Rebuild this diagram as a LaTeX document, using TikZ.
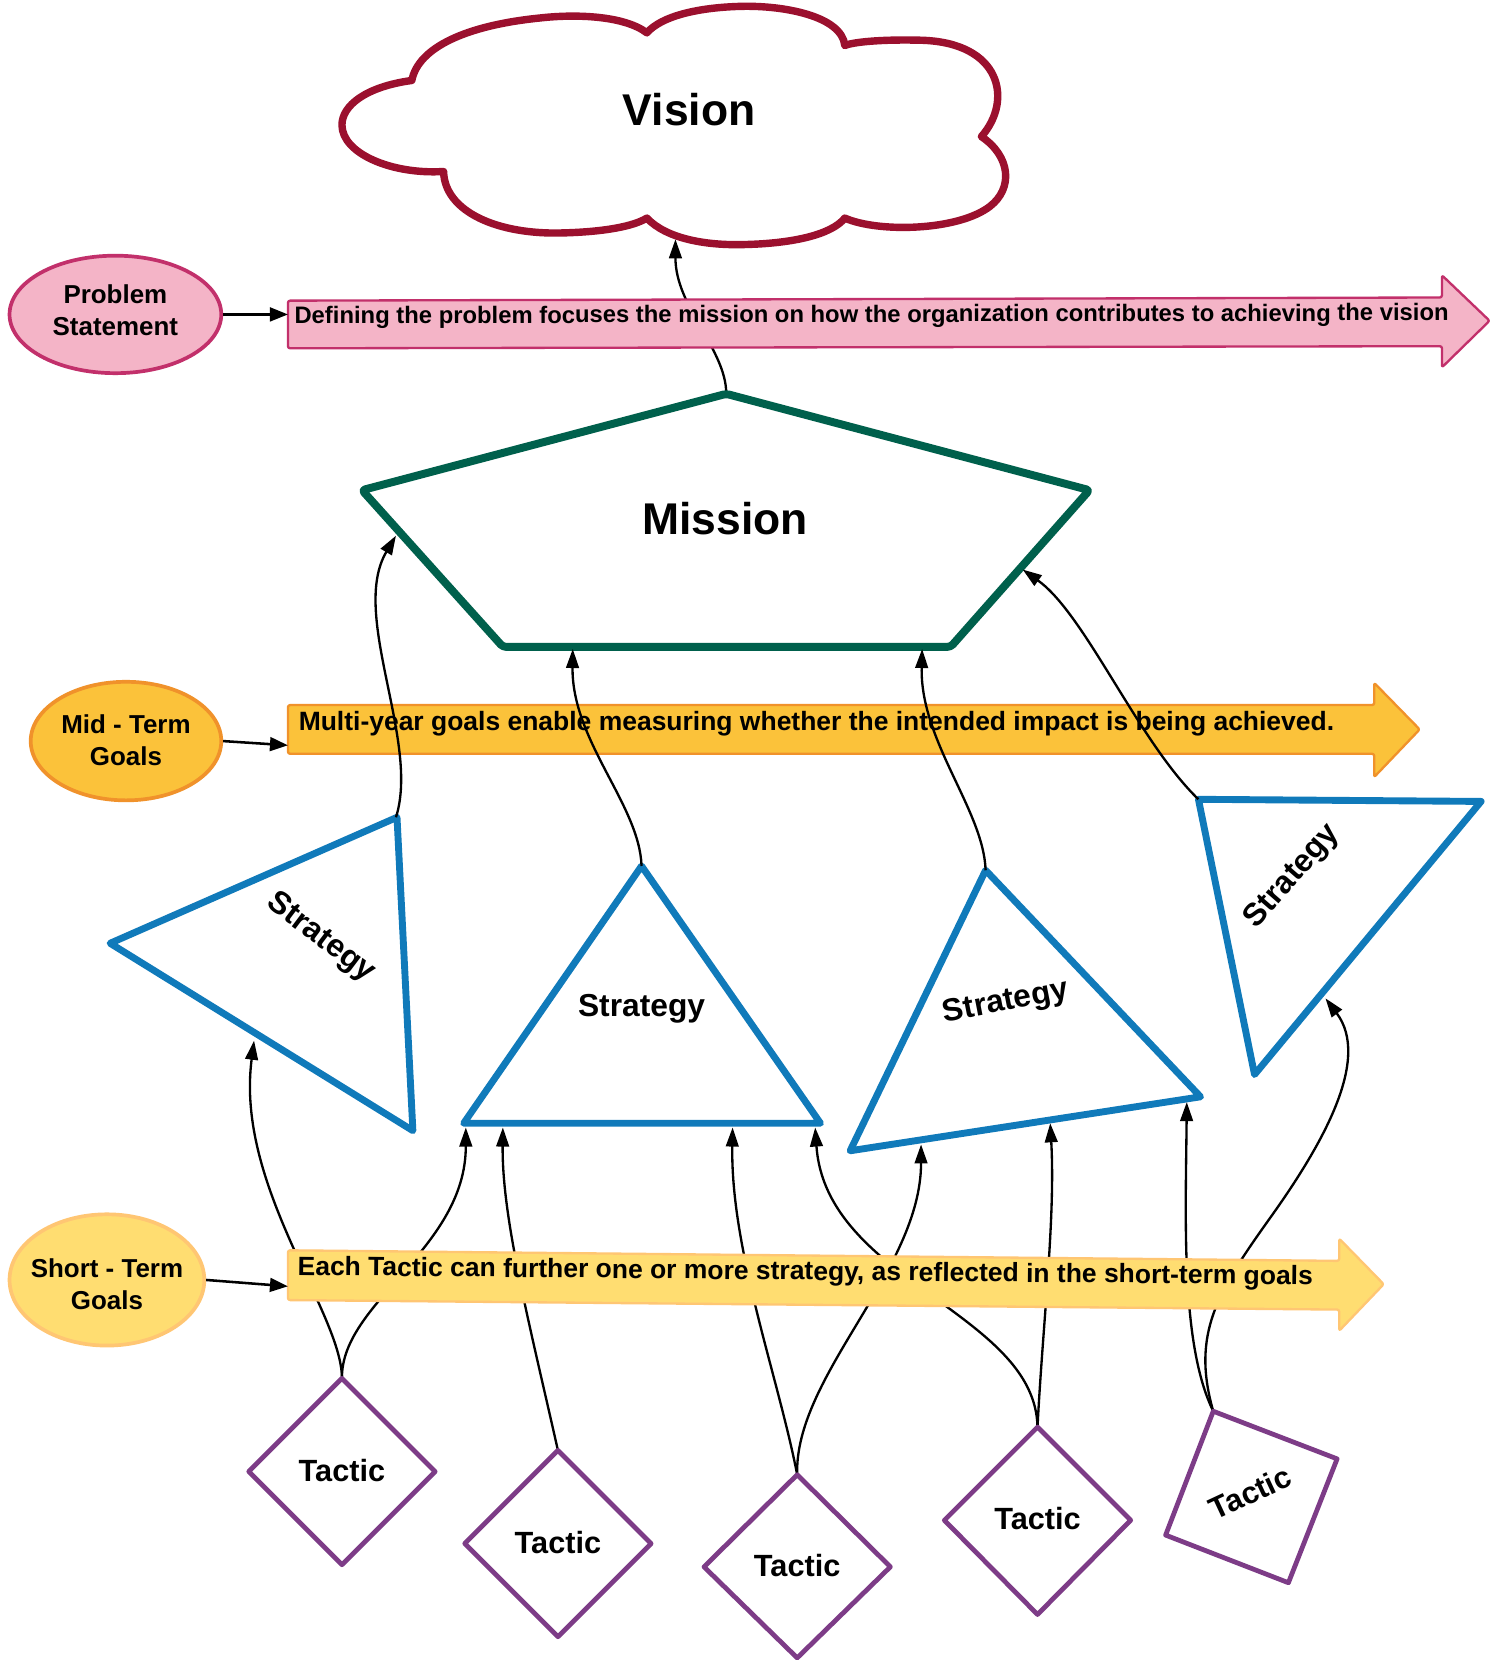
\documentclass[tikz,border=0pt]{standalone}
\usepackage{fontspec}
\setmainfont{Liberation Sans}
\usetikzlibrary{arrows.meta,shapes.geometric}
\definecolor{cloudred}{RGB}{155,16,46}
\definecolor{missiongreen}{RGB}{0,96,76}
\definecolor{stratblue}{RGB}{16,122,186}
\definecolor{tacticpurple}{RGB}{125,60,135}
\definecolor{pinkfill}{RGB}{244,180,199}
\definecolor{pinkline}{RGB}{194,48,107}
\definecolor{orangefill}{RGB}{251,194,58}
\definecolor{orangeline}{RGB}{240,146,43}
\definecolor{yellowfill}{RGB}{255,221,113}
\definecolor{yellowline}{RGB}{255,198,115}
\begin{document}
\begin{tikzpicture}[x=1pt,y=-1pt,line join=round,
  conn/.style={line width=2.2pt,-{Triangle[length=18pt,width=12pt]}},
  gconn/.style={line width=2.4pt,-{Triangle[length=17pt,width=13pt]}},
  big/.style={font=\bfseries\fontsize{42}{48}\selectfont,inner sep=0pt},
  mid/.style={font=\bfseries\fontsize{30}{36}\selectfont,inner sep=0pt},
  tac/.style={font=\bfseries\fontsize{29}{34}\selectfont,inner sep=0pt},
  ell/.style={ellipse,line width=3.5pt,inner sep=0pt},
  elltext/.style={align=center,inner sep=0pt,font=\bfseries\fontsize{24.5}{30}\selectfont},
  band/.style={font=\bfseries\fontsize{25}{30}\selectfont,inner sep=0pt,anchor=west},
  tri/.style={draw=stratblue,line width=6.5pt,fill=white},
  dia/.style={draw=tacticpurple,line width=4.5pt,fill=white}]
\useasboundingbox[fill=white] (0,0) rectangle (1413,1568);

% ---------- coordinates
\coordinate (m-top) at (686,372);
\coordinate (c-bot) at (638,226);
\coordinate (m-l) at (374,506);
\coordinate (m-b1) at (541,613);
\coordinate (m-b2) at (871,613);
\coordinate (m-r) at (966,538);
\coordinate (t1-top) at (374,772);
\coordinate (t2-top) at (606,818);
\coordinate (t3-top) at (931,822);
\coordinate (t4-top) at (1132,755);
\coordinate (t1-in) at (240,983);
\coordinate (t2-in1) at (440,1065);
\coordinate (t2-in2) at (475,1065);
\coordinate (t2-in3) at (692,1065);
\coordinate (t2-in4) at (770,1065);
\coordinate (t3-in1) at (870,1081);
\coordinate (t3-in2) at (992,1061);
\coordinate (t3-in3) at (1121,1041);
\coordinate (t4-in) at (1252,943);
\coordinate (d1-top) at (323,1302);
\coordinate (d2-top) at (527,1370);
\coordinate (d3-top) at (753,1393);
\coordinate (d4-top) at (980,1348);
\coordinate (d5-top) at (1146,1333);
\coordinate (pink-in) at (272,297);
\coordinate (orange-in) at (272,704);
\coordinate (yellow-in) at (272,1215);

% ---------- cloud
\draw[cloudred,line width=7pt,fill=white]
  (389,76) .. controls (345,82) and (323,100) .. (323,118)
  .. controls (323,145) and (370,165) .. (419,162)
  .. controls (420,200) and (470,222) .. (532,220)
  .. controls (570,219) and (598,214) .. (611,206)
  .. controls (630,226) and (668,232) .. (703,231)
  .. controls (748,230) and (785,222) .. (798,206)
  .. controls (830,220) and (905,218) .. (935,195)
  .. controls (957,178) and (955,148) .. (927,129)
  .. controls (957,95) and (946,40) .. (870,38)
  .. controls (830,37) and (805,40) .. (798,43)
  .. controls (795,15) and (740,5) .. (700,6)
  .. controls (660,7) and (625,15) .. (611,31)
  .. controls (590,15) and (545,13) .. (510,17)
  .. controls (440,24) and (395,45) .. (389,76) -- cycle;
\node[big] (vision) at (651,104) {Vision};

% mission -> vision (behind pink band)
\draw[conn] (m-top) .. controls (686,330) and (638,290) .. (c-bot);

% ---------- pink band
\draw[pinkline,line width=2.2pt,fill=pinkfill,rounded corners=2pt]
  (272,284) -- (1362,281) -- (1362,260) -- (1407,303) -- (1362,347) -- (1362,327) -- (272,329) -- cycle;
\node[band,font=\bfseries\fontsize{22.5}{28}\selectfont,rotate=0.15] (pinktext) at (278,300) {Defining the problem focuses the mission on how the organization contributes to achieving the vision};
\node[ell,draw=pinkline,fill=pinkfill,minimum width=200pt,minimum height=111pt] (prob) at (109,297) {};
\node[elltext] (probtext) at (109,293) {Problem\\Statement};
\draw[gconn] (prob.east) -- (pink-in);

% ---------- mission
\draw[missiongreen,line width=7.5pt,fill=white,rounded corners=3pt]
  (686,372) -- (1029,463) -- (898,611) -- (475,611) -- (342,463) -- cycle;
\node[big] (mission) at (685,490) {Mission};

% ---------- orange band
\draw[orangeline,line width=2.2pt,fill=orangefill,rounded corners=2pt]
  (272,666) -- (1298,666) -- (1298,645) -- (1341,689) -- (1298,734) -- (1298,712) -- (272,712) -- cycle;
\node[band] (orangetext) at (282,684) {Multi-year goals enable measuring whether the intended impact is being achieved.};
\node[ell,draw=orangeline,fill=orangefill,minimum width=180pt,minimum height=112pt] (midg) at (119,700) {};
\node[elltext] (midtext) at (119,699) {Mid - Term\\Goals};
\draw[gconn] (midg.east) -- (orange-in);

% ---------- strategies
\draw[tri] (104,891) -- (375,772) -- (390,1068) -- cycle;
\draw[tri] (606,818) -- (775,1061) -- (438,1061) -- cycle;
\draw[tri] (931,822) -- (1134,1036) -- (803,1087) -- cycle;
\draw[tri] (1132,755) -- (1399,757) -- (1185,1015) -- cycle;
\node[mid,rotate=-37] (s1) at (303,886) {Strategy};
\node[mid] (s2) at (606,953) {Strategy};
\node[mid,rotate=11] (s3) at (950,947) {Strategy};
\node[mid,rotate=49] (s4) at (1221,828) {Strategy};

% strategy -> mission
\draw[conn] (t1-top) .. controls (397,700) and (330,580) .. (m-l);
\draw[conn] (t2-top) .. controls (604,760) and (540,700) .. (m-b1);
\draw[conn] (t3-top) .. controls (929,765) and (869,700) .. (m-b2);
\draw[conn] (t4-top) .. controls (1075,700) and (1025,580) .. (m-r);

% tactic -> strategy (behind yellow band)
\draw[conn] (d1-top) .. controls (323,1240) and (222,1120) .. (t1-in);
\draw[conn] (d1-top) .. controls (322,1230) and (440,1180) .. (t2-in1);
\draw[conn] (d2-top) .. controls (500,1250) and (474,1150) .. (t2-in2);
\draw[conn] (d3-top) .. controls (735,1300) and (690,1180) .. (t2-in3);
\draw[conn] (d3-top) .. controls (750,1300) and (870,1200) .. (t3-in1);
\draw[conn] (d4-top) .. controls (978,1240) and (780,1210) .. (t2-in4);
\draw[conn] (d4-top) .. controls (985,1250) and (997,1150) .. (t3-in2);
\draw[conn] (d5-top) .. controls (1115,1270) and (1120,1150) .. (t3-in3);
\draw[conn] (d5-top) .. controls (1125,1260) and (1150,1220) .. (1200,1150)
  .. controls (1250,1080) and (1295,1000) .. (t4-in);

% ---------- yellow band
\draw[yellowline,line width=2.2pt,fill=yellowfill,rounded corners=2pt]
  (272,1181) -- (1265,1191) -- (1265,1170) -- (1307,1213) -- (1265,1257) -- (1265,1237) -- (272,1228) -- cycle;
\node[band,rotate=-0.55] (yellowtext) at (281,1198) {Each Tactic can further one or more strategy, as reflected in the short-term goals};
\node[ell,draw=yellowline,fill=yellowfill,minimum width=184pt,minimum height=124pt] (shortg) at (101,1209) {};
\node[elltext] (shorttext) at (101,1213) {Short - Term\\Goals};
\draw[gconn] (shortg.east) -- (yellow-in);

% ---------- tactics
\draw[dia] (323,1302) -- (411,1390) -- (323,1478) -- (235,1390) -- cycle;
\draw[dia] (527,1370) -- (615,1458) -- (527,1546) -- (439,1458) -- cycle;
\draw[dia] (753,1393) -- (841,1480) -- (753,1566) -- (665,1480) -- cycle;
\draw[dia] (980,1348) -- (1068,1436) -- (980,1525) -- (892,1436) -- cycle;
\draw[dia] (1146,1333) -- (1263,1378) -- (1217,1495) -- (1101,1450) -- cycle;
\node[tac] (tac1) at (323,1389) {Tactic};
\node[tac] (tac2) at (527,1457) {Tactic};
\node[tac] (tac3) at (753,1479) {Tactic};
\node[tac] (tac4) at (980,1434) {Tactic};
\node[tac,rotate=25] (tac5) at (1181,1410) {Tactic};
\end{tikzpicture}
\end{document}
